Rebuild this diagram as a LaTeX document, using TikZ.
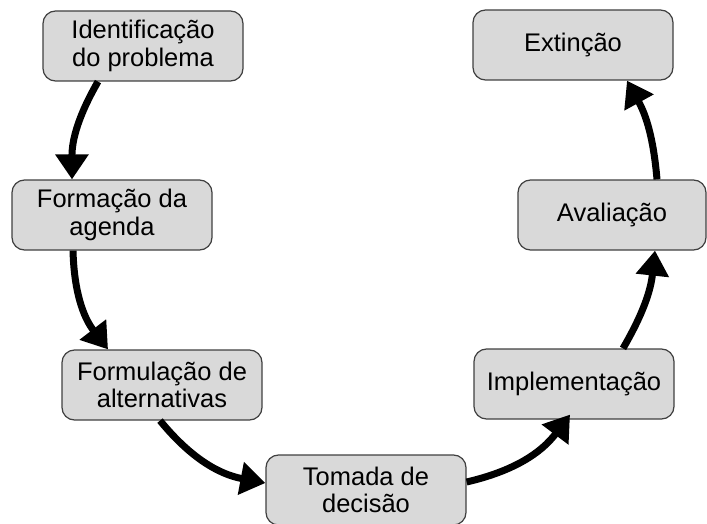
\documentclass[tikz,border=0pt]{standalone}
\usepackage{fontspec}
\setmainfont{Liberation Sans}
\usetikzlibrary{arrows.meta}
\definecolor{boxgray}{rgb}{0.85, 0.85, 0.85}
\definecolor{edgegray}{rgb}{0.25, 0.25, 0.25}

\begin{document}
\begin{tikzpicture}
    \tikzstyle{box_style} = [draw=edgegray, fill=boxgray, line width=0.7pt, rounded corners=0.25cm,
                             minimum width=4cm, minimum height=1.4cm, align=center,
                             font=\fontsize{14.5}{15.5}\selectfont]
    \tikzstyle{arrow_style} = [-{Triangle[length=0.5cm, width=0.64cm]}, line width=0.14cm, black]

    \useasboundingbox (0,0) rectangle (14.14,-10.48);

    % left side of the cycle
    \node[box_style] (ident) at (2.86,-0.92) {Identificação\\do problema};
    \node[box_style] (agenda) at (2.24,-4.30) {Formação da\\agenda};
    \node[box_style] (formul) at (3.24,-7.70) {Formulação de\\alternativas};
    \node[box_style] (decisao) at (7.32,-9.80) {Tomada de\\decisão};

    % right side of the cycle
    \node[box_style] (implem) at (11.48,-7.68) {Implementação};
    \node[box_style, minimum width=3.76cm] (aval) at (12.24,-4.30) {Avaliação};
    \node[box_style] (extin) at (11.46,-0.90) {Extinção};

    \draw[arrow_style] ([xshift=-0.9cm]ident.south) to[bend right=15] ([xshift=-0.8cm]agenda.north);
    \draw[arrow_style] ([xshift=-0.78cm]agenda.south) to[bend right=18] ([xshift=-1.08cm]formul.north);
    \draw[arrow_style] ([xshift=-0.04cm]formul.south) to[bend right=20] ([yshift=0.14cm]decisao.west);
    \draw[arrow_style] ([yshift=0.16cm]decisao.east) to[bend right=20] ([xshift=-0.08cm, yshift=0.1cm]implem.south);
    \draw[arrow_style] ([xshift=0.98cm]implem.north) to[bend right=12] ([xshift=0.86cm]aval.south);
    \draw[arrow_style] ([xshift=0.9cm]aval.north) to[bend right=12] ([xshift=1.08cm]extin.south);

\end{tikzpicture}
\end{document}
